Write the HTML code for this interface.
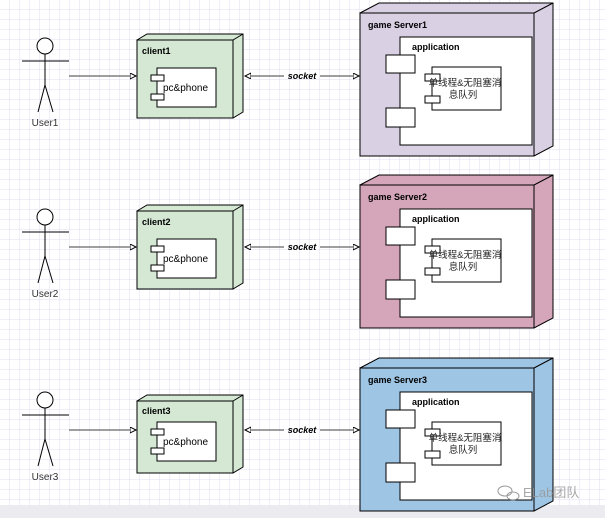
<!DOCTYPE html>
<html><head><meta charset="utf-8"><style>
html,body{margin:0;padding:0;width:605px;height:518px;overflow:hidden;background:#fff}
svg{display:block}
text{font-family:"Liberation Sans","Noto Sans CJK SC",sans-serif}
</style></head><body>
<svg width="605" height="518" viewBox="0 0 605 518" xmlns="http://www.w3.org/2000/svg">
<defs>
<pattern id="g" width="10" height="10" patternUnits="userSpaceOnUse">
<path d="M10 0V10M0 10H10" stroke="#e0dcf0" stroke-width="1" fill="none"/>
</pattern>
<marker id="ar" markerWidth="8" markerHeight="8" refX="6" refY="3" orient="auto" markerUnits="userSpaceOnUse">
<path d="M0,0 L6,3 L0,6 Z" fill="#fff" stroke="#000" stroke-width="1"/>
</marker>
</defs>
<rect width="605" height="518" fill="#fff"/>
<rect width="605" height="518" fill="url(#g)"/>
<rect y="505" width="605" height="13" fill="#ececf0"/>

<g id="r1">
<g stroke="#000" fill="none" stroke-width="1">
<circle cx="45" cy="46" r="8" fill="#fff"/>
<line x1="45" y1="54" x2="45" y2="85"/>
<line x1="22" y1="61" x2="69" y2="61"/>
<line x1="45" y1="85" x2="38" y2="112"/>
<line x1="45" y1="85" x2="53" y2="112"/>
</g>
<text x="45" y="126" font-size="10" text-anchor="middle" fill="#333">User1</text>
<line x1="69" y1="76" x2="136" y2="76" stroke="#666" stroke-width="1.2" marker-end="url(#ar)"/>
<path d="M137 40 L147 34 L243 34 L243 112 L233 118 Z" fill="#d5e8d4" stroke="#000"/>
<line x1="233" y1="40" x2="243" y2="34" stroke="#000"/>
<rect x="137" y="40" width="96" height="78" fill="#d5e8d4" stroke="#000"/>
<text x="142" y="54" font-size="9" font-weight="bold">client1</text>
<rect x="157" y="68" width="59" height="39" fill="#fff" stroke="#000"/>
<rect x="151" y="75" width="13" height="6" fill="#fff" stroke="#000"/>
<rect x="151" y="94" width="13" height="6" fill="#fff" stroke="#000"/>
<text x="163" y="91" font-size="10">pc&amp;phone</text>
<line x1="284" y1="76" x2="245" y2="76" stroke="#666" stroke-width="1.2" marker-end="url(#ar)"/>
<line x1="320" y1="76" x2="359" y2="76" stroke="#666" stroke-width="1.2" marker-end="url(#ar)"/>
<text x="302" y="79" font-size="9" font-weight="bold" font-style="italic" text-anchor="middle">socket</text>
<path d="M360 13 L379 3 L553 3 L553 146 L534 156 Z" fill="#d9d0e3" stroke="#000"/>
<line x1="534" y1="13" x2="553" y2="3" stroke="#000"/>
<rect x="360" y="13" width="174" height="143" fill="#d9d0e3" stroke="#000"/>
<text x="368" y="28" font-size="9" font-weight="bold">game Server1</text>
<rect x="400" y="37" width="132" height="108" fill="#fff" stroke="#000"/>
<text x="412" y="50" font-size="9" font-weight="bold">application</text>
<rect x="386" y="55" width="29" height="18" fill="#fff" stroke="#000"/>
<rect x="386" y="108" width="29" height="19" fill="#fff" stroke="#000"/>
<rect x="432" y="67" width="69" height="43" fill="#fff" stroke="#000"/>
<rect x="425" y="74" width="15" height="7" fill="#fff" stroke="#000"/>
<rect x="425" y="96" width="15" height="7" fill="#fff" stroke="#000"/>
<text x="465" y="86" font-size="9.5" text-anchor="middle" fill="#222">单线程&amp;无阻塞消</text>
<text x="463" y="98" font-size="9.5" text-anchor="middle" fill="#222">息队列</text>
</g>

<g transform="translate(0,171)">
<g stroke="#000" fill="none" stroke-width="1">
<circle cx="45" cy="46" r="8" fill="#fff"/>
<line x1="45" y1="54" x2="45" y2="85"/>
<line x1="22" y1="61" x2="69" y2="61"/>
<line x1="45" y1="85" x2="38" y2="112"/>
<line x1="45" y1="85" x2="53" y2="112"/>
</g>
<text x="45" y="126" font-size="10" text-anchor="middle" fill="#333">User2</text>
<line x1="69" y1="76" x2="136" y2="76" stroke="#666" stroke-width="1.2" marker-end="url(#ar)"/>
<path d="M137 40 L147 34 L243 34 L243 112 L233 118 Z" fill="#d5e8d4" stroke="#000"/>
<rect x="137" y="40" width="96" height="78" fill="#d5e8d4" stroke="#000"/>
<line x1="233" y1="40" x2="243" y2="34" stroke="#000"/>
<text x="142" y="54" font-size="9" font-weight="bold">client2</text>
<rect x="157" y="68" width="59" height="39" fill="#fff" stroke="#000"/>
<rect x="151" y="75" width="13" height="6" fill="#fff" stroke="#000"/>
<rect x="151" y="94" width="13" height="6" fill="#fff" stroke="#000"/>
<text x="163" y="91" font-size="10">pc&amp;phone</text>
<line x1="284" y1="76" x2="245" y2="76" stroke="#666" stroke-width="1.2" marker-end="url(#ar)"/>
<line x1="320" y1="76" x2="359" y2="76" stroke="#666" stroke-width="1.2" marker-end="url(#ar)"/>
<text x="302" y="79" font-size="9" font-weight="bold" font-style="italic" text-anchor="middle">socket</text>
<g transform="translate(0,1)">
<path d="M360 13 L379 3 L553 3 L553 146 L534 156 Z" fill="#d5a6b9" stroke="#000"/>
<rect x="360" y="13" width="174" height="143" fill="#d5a6b9" stroke="#000"/>
<line x1="534" y1="13" x2="553" y2="3" stroke="#000"/>
<text x="368" y="28" font-size="9" font-weight="bold">game Server2</text>
<rect x="400" y="37" width="132" height="108" fill="#fff" stroke="#000"/>
<text x="412" y="50" font-size="9" font-weight="bold">application</text>
<rect x="386" y="55" width="29" height="18" fill="#fff" stroke="#000"/>
<rect x="386" y="108" width="29" height="19" fill="#fff" stroke="#000"/>
<rect x="432" y="67" width="69" height="43" fill="#fff" stroke="#000"/>
<rect x="425" y="74" width="15" height="7" fill="#fff" stroke="#000"/>
<rect x="425" y="96" width="15" height="7" fill="#fff" stroke="#000"/>
<text x="465" y="86" font-size="9.5" text-anchor="middle" fill="#222">单线程&amp;无阻塞消</text>
<text x="463" y="98" font-size="9.5" text-anchor="middle" fill="#222">息队列</text>
</g>
</g>

<g transform="translate(0,354)">
<g stroke="#000" fill="none" stroke-width="1">
<circle cx="45" cy="46" r="8" fill="#fff"/>
<line x1="45" y1="54" x2="45" y2="85"/>
<line x1="22" y1="61" x2="69" y2="61"/>
<line x1="45" y1="85" x2="38" y2="112"/>
<line x1="45" y1="85" x2="53" y2="112"/>
</g>
<text x="45" y="126" font-size="10" text-anchor="middle" fill="#333">User3</text>
<line x1="69" y1="76" x2="136" y2="76" stroke="#666" stroke-width="1.2" marker-end="url(#ar)"/>
<path d="M137 47 L147 41 L243 41 L243 113 L233 119 Z" fill="#d5e8d4" stroke="#000"/>
<rect x="137" y="47" width="96" height="72" fill="#d5e8d4" stroke="#000"/>
<line x1="233" y1="47" x2="243" y2="41" stroke="#000"/>
<text x="142" y="60" font-size="9" font-weight="bold">client3</text>
<rect x="157" y="68" width="59" height="39" fill="#fff" stroke="#000"/>
<rect x="151" y="75" width="13" height="6" fill="#fff" stroke="#000"/>
<rect x="151" y="94" width="13" height="6" fill="#fff" stroke="#000"/>
<text x="163" y="91" font-size="10">pc&amp;phone</text>
<line x1="284" y1="76" x2="245" y2="76" stroke="#666" stroke-width="1.2" marker-end="url(#ar)"/>
<line x1="320" y1="76" x2="359" y2="76" stroke="#666" stroke-width="1.2" marker-end="url(#ar)"/>
<text x="302" y="79" font-size="9" font-weight="bold" font-style="italic" text-anchor="middle">socket</text>
<g transform="translate(0,1)">
<path d="M360 13 L379 3 L553 3 L553 146 L534 156 Z" fill="#9fc5e4" stroke="#000"/>
<rect x="360" y="13" width="174" height="143" fill="#9fc5e4" stroke="#000"/>
<line x1="534" y1="13" x2="553" y2="3" stroke="#000"/>
<text x="368" y="28" font-size="9" font-weight="bold">game Server3</text>
<rect x="400" y="37" width="132" height="108" fill="#fff" stroke="#000"/>
<text x="412" y="50" font-size="9" font-weight="bold">application</text>
<rect x="386" y="55" width="29" height="18" fill="#fff" stroke="#000"/>
<rect x="386" y="108" width="29" height="19" fill="#fff" stroke="#000"/>
<rect x="432" y="67" width="69" height="43" fill="#fff" stroke="#000"/>
<rect x="425" y="74" width="15" height="7" fill="#fff" stroke="#000"/>
<rect x="425" y="96" width="15" height="7" fill="#fff" stroke="#000"/>
<text x="465" y="86" font-size="9.5" text-anchor="middle" fill="#222">单线程&amp;无阻塞消</text>
<text x="463" y="98" font-size="9.5" text-anchor="middle" fill="#222">息队列</text>
</g>
</g>

<g opacity="0.85">
<ellipse cx="505" cy="491" rx="7" ry="5" fill="none" stroke="#888"/>
<ellipse cx="513" cy="496" rx="6" ry="4" fill="none" stroke="#888"/>
<text x="523" y="497" font-size="13" fill="#999">ELab团队</text>
</g>
</svg>
</body></html>
